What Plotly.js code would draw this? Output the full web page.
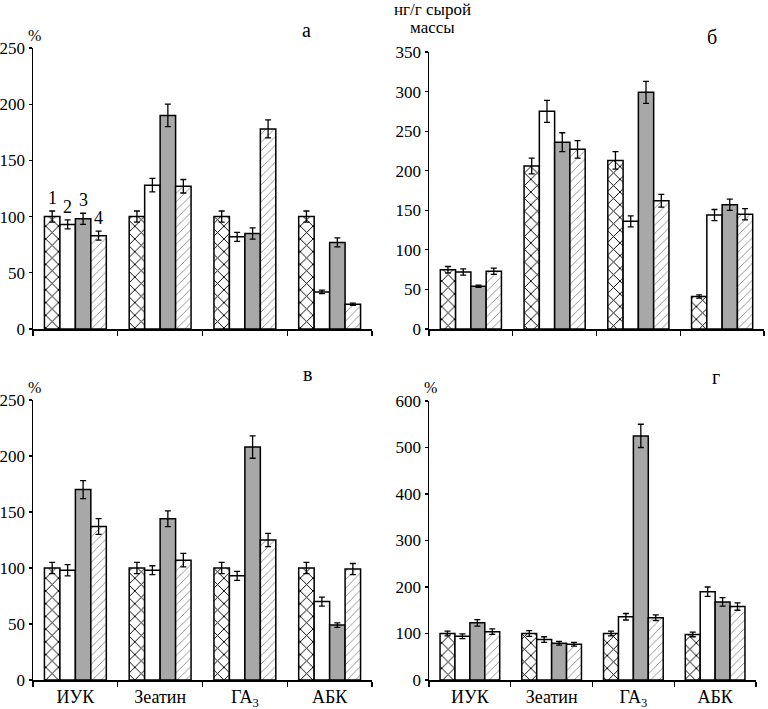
<!DOCTYPE html>
<html>
<head>
<meta charset="utf-8">
<script src="https://cdn.plot.ly/plotly-3.0.1.min.js"></script>
<style>html,body{margin:0;padding:0;background:#fff;}#chart{width:768px;height:709px;}</style>
</head>
<body>
<div id="chart"></div>
<script>
// ---------- data ----------
const categories = ["ИУК", "Зеатин", "ГА<sub>3</sub>", "АБК"];
const seriesNames = ["1", "2", "3", "4"];

// panel а (%)
const valsA = [[100, 100, 100, 100], [93, 128, 82, 33], [98, 190, 85, 77], [83, 127, 178, 22]];
const errsA = [[5, 5, 5, 5], [4, 6, 4, 1.5], [5, 10, 5, 4], [4, 6, 8, 1]];
// panel б (нг/г сырой массы)
const valsB = [[75, 206, 213, 41], [72, 275, 136, 144], [54, 236, 299, 157], [73, 227, 162, 145]];
const errsB = [[4, 10, 11, 2], [4, 14, 7, 7], [1.5, 12, 14, 7], [4, 11, 8, 7]];
// panel в (%)
const valsC = [[100, 100, 100, 100], [98, 98, 93, 70], [170, 144, 208, 49], [137, 107, 125, 99]];
const errsC = [[5, 5, 5, 5], [5, 4, 4, 4], [8, 7, 10, 2], [7, 6, 6, 5]];
// panel г (%)
const valsD = [[100, 100, 100, 98], [94, 87, 136, 190], [123, 79, 525, 168], [104, 77, 134, 158]];
const errsD = [[5, 6, 5, 5], [5, 6, 7, 10], [7, 4, 25, 9], [6, 4, 6, 8]];

// ---------- styles ----------
const FONT = "Liberation Serif";
const styles = [
  {color: "#ffffff", pattern: {shape: "x", fgcolor: "#000", bgcolor: "#fff", size: 9, solidity: 0.2}},
  {color: "#ffffff"},
  {color: "#a8a8a8"},
  {color: "#ffffff", pattern: {shape: "/", fgcolor: "#8a8a8a", bgcolor: "#fff", size: 6, solidity: 0.15}}
];

const panels = [
  {vals: valsA, errs: errsA, xa: "x", ya: "y"},
  {vals: valsB, errs: errsB, xa: "x2", ya: "y2"},
  {vals: valsC, errs: errsC, xa: "x3", ya: "y3"},
  {vals: valsD, errs: errsD, xa: "x4", ya: "y4"}
];

const traces = [];
panels.forEach(p => {
  for (let s = 0; s < 4; s++) {
    const m = {color: styles[s].color, line: {color: "#000", width: 1.5}};
    if (styles[s].pattern) m.pattern = styles[s].pattern;
    traces.push({
      type: "bar", x: categories, y: p.vals[s], name: seriesNames[s],
      xaxis: p.xa, yaxis: p.ya, marker: m, showlegend: false,
      error_y: {type: "data", array: p.errs[s], visible: true, color: "#000", thickness: 1.3, width: 3}
    });
  }
});

const W = 768, H = 709;
const px = v => v / W, py = v => 1 - v / H;

function xaxis(d0, d1, anchor, labels) {
  return {domain: [px(d0), px(d1)], anchor: anchor, showline: true, linecolor: "#000", linewidth: 1.5,
    ticks: "outside", tickson: "boundaries", ticklen: 5, tickcolor: "#000", tickwidth: 1.2,
    showticklabels: labels, tickfont: {family: FONT, size: 18, color: "#000"},
    showgrid: false, zeroline: false, fixedrange: true};
}
function yaxis(d0, d1, anchor, max, dt) {
  return {domain: [py(d1), py(d0)], anchor: anchor, range: [0, max], dtick: dt, showline: true,
    linecolor: "#000", linewidth: 1.5, ticks: "outside", ticklen: 3, tickcolor: "#000", tickwidth: 1.2,
    tickfont: {family: FONT, size: 17, color: "#000"}, showgrid: false, zeroline: false, fixedrange: true};
}

const ann = (t, x, y, size) => ({text: t, xref: "paper", yref: "paper", x: px(x), y: py(y),
  xanchor: "center", yanchor: "middle", showarrow: false, font: {family: FONT, size: size, color: "#000"}});

const annotations = [
  ann("а", 306, 30, 20), ann("б", 712, 37, 20), ann("в", 307, 374, 20), ann("г", 716, 377, 20),
  ann("%", 34, 35, 16), ann("%", 34, 387, 16), ann("%", 430, 387, 16),
  ann("нг/г сырой", 432, 10, 17), ann("массы", 432, 27, 17)
];
// series numbers above the first group of panel а
const shifts = [-23, -8, 8, 23];
for (let s = 0; s < 4; s++) {
  annotations.push({text: seriesNames[s], xref: "x", yref: "y", x: categories[0],
    y: valsA[s][0] + errsA[s][0], xshift: shifts[s], yshift: 1, xanchor: "center", yanchor: "bottom",
    showarrow: false, font: {family: FONT, size: 18, color: "#000"}});
}

const layout = {
  width: W, height: H, margin: {l: 0, r: 0, t: 0, b: 0}, paper_bgcolor: "#fff", plot_bgcolor: "rgba(0,0,0,0)",
  barmode: "group", bargap: 0.27, bargroupgap: 0, showlegend: false,
  font: {family: FONT, color: "#000"},
  xaxis: xaxis(33, 372, "y", false), yaxis: yaxis(48, 329, "x", 250, 50),
  xaxis2: xaxis(429, 764, "y2", false), yaxis2: yaxis(52, 329, "x2", 350, 50),
  xaxis3: xaxis(33, 372, "y3", true), yaxis3: yaxis(400, 680, "x3", 250, 50),
  xaxis4: xaxis(429, 756, "y4", true), yaxis4: yaxis(401, 680, "x4", 600, 100),
  annotations: annotations
};

Plotly.newPlot("chart", traces, layout, {staticPlot: true, displayModeBar: false});
</script>
</body>
</html>
